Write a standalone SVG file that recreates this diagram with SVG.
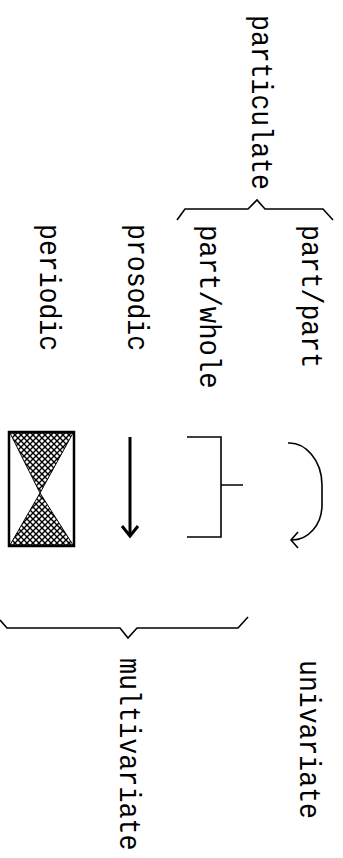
<svg xmlns="http://www.w3.org/2000/svg" width="343" height="858" viewBox="0 0 343 858">
  <style>
    .lbl { font-family: "Liberation Mono", "DejaVu Sans Mono", monospace; font-size: 26.5px; fill: #000; }
    .ln { fill: none; stroke: #000; stroke-width: 1.6; stroke-linejoin: miter; }
    .thick { fill: none; stroke: #000; stroke-width: 3; }
  </style>
  <defs>
    <pattern id="hatch" width="6" height="6" patternUnits="userSpaceOnUse">
      <rect width="6" height="6" fill="#fff"/>
      <path d="M0,0 L6,6 M6,0 L0,6" stroke="#000" stroke-width="1.4"/>
    </pattern>
  </defs>
  <rect width="343" height="858" fill="#fff"/>

  <!-- labels, rotated to read top-to-bottom; slight stretch across the baseline -->
  <g id="particulate"><text class="lbl" transform="translate(252,15) rotate(90) scale(1,1.1)">particulate</text></g>
  <g id="part-part"><text class="lbl" transform="translate(302,225) rotate(90) scale(1,1.1)">part/part</text></g>
  <g id="part-whole"><text class="lbl" transform="translate(200,225) rotate(90) scale(1.03,1.1)">part/whole</text></g>
  <g id="prosodic"><text class="lbl" transform="translate(128,224) rotate(90) scale(1,1.1)">prosodic</text></g>
  <g id="periodic"><text class="lbl" transform="translate(40,224) rotate(90) scale(1,1.1)">periodic</text></g>
  <g id="univariate"><text class="lbl" transform="translate(300,660) rotate(90) scale(1,1.1)">univariate</text></g>
  <g id="multivariate"><text class="lbl" transform="translate(120,658) rotate(90) scale(1.01,1.1)">multivariate</text></g>

  <!-- symbols -->
  <g id="hourglass">
    <path d="M10,433 L73,433 L40,493 Z" fill="url(#hatch)" stroke="#000" stroke-width="1"/>
    <path d="M40,493 L73,545 L10,545 Z" fill="url(#hatch)" stroke="#000" stroke-width="1"/>
    <rect x="9" y="432" width="65" height="114" fill="none" stroke="#000" stroke-width="2.5"/>
  </g>
  <g id="arrow-down">
    <path class="thick" d="M130,437 V535"/>
    <path class="thick" d="M122,526 L130,536 L138,526"/>
  </g>
  <g id="bracket">
    <path class="ln" d="M187,437 H221 V537 H187 M221,485 H243"/>
  </g>
  <g id="loop-arrow">
    <path class="ln" d="M288,443 C305,442 322,460 322,485 L322,505 C322,525 308,540 292,540"/>
    <path class="ln" d="M298,532 L291,540 L298,548"/>
  </g>

  <!-- braces -->
  <g id="connectors">
    <path class="ln" d="M177,220 L185,209 L248,209 L257,200 L265,209 L323,209 L333,220"/>
    <path class="ln" d="M0,620 L7,628 L120,628 L128,638 L137,628 L238,628 L248,617"/>
  </g>
</svg>
